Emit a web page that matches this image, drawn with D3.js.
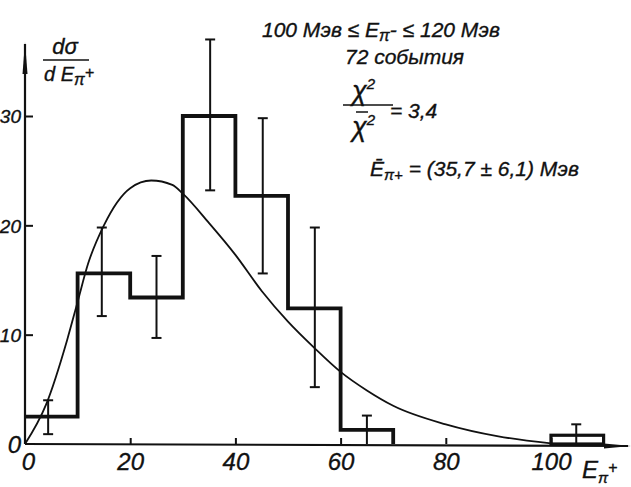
<!DOCTYPE html>
<html>
<head>
<meta charset="utf-8">
<script src="https://cdn.jsdelivr.net/npm/d3@7"></script>
<style>
  body { margin: 0; background: #fff; }
  svg text { font-family: "Liberation Sans", "DejaVu Sans", sans-serif; font-style: italic; fill: #111; stroke: #111; stroke-width: 0.35; }
</style>
</head>
<body>
<svg width="631" height="487"></svg>
<script>
// histogram bins (MeV) and heights
const binStarts = [0, 10, 20, 30, 40, 50, 60];
const binHeights = [2.5, 15.6, 13.4, 30.0, 22.7, 12.4, 1.3];
const binWidth = 10;
const farBin = { start: 100, height: 0.8 };

// error bars
const errX  = [4.4, 14.6, 25, 35.2, 45.2, 55.1, 65, 104.8];
const errHi = [4.0, 19.8, 17.2, 37.0, 29.8, 19.8, 2.6, 1.8];
const errLo = [0.9, 11.7, 9.7, 23.2, 15.6, 5.2, 0, 0];

// theoretical curve
const curveX = [0, 4, 8, 10, 12, 15, 20, 24, 28, 30, 35, 40, 45, 50, 55, 60, 65, 70, 80, 90, 100];
const curveY = [0, 3.6, 9.5, 13, 16.5, 20, 23.4, 24.1, 23.7, 22.9, 20.2, 17.3, 14, 11.2, 8.8, 6.6, 4.9, 3.5, 1.8, 0.7, 0.05];

const xTicks = [0, 20, 40, 60, 80, 100];
const yTicks = [0, 10, 20, 30];

const svg = d3.select("svg");

const x = d3.scaleLinear().domain([0, 100]).range([25, 551]);
const y = d3.scaleLinear().domain([0, 30]).range([444, 116]);

// axes (ticks only, lines drawn by hand for the arrows)
const yAxis = svg.append("g")
  .attr("transform", `translate(${x(0)},0)`)
  .call(d3.axisLeft(y).tickValues(yTicks).tickSizeInner(-8).tickSizeOuter(0).tickPadding(5));
yAxis.select(".domain").remove();
yAxis.selectAll("line").attr("stroke", "#111").attr("stroke-width", 2);
yAxis.selectAll("text")
  .attr("font-size", d => d === 0 ? 24 : 19).attr("font-family", null).attr("dy", "0.36em")
  .attr("x", -4);
yAxis.selectAll(".tick").filter(d => d === 0).select("line").remove();

const xAxis = svg.append("g")
  .attr("transform", `translate(0,${y(0)})`)
  .call(d3.axisBottom(x).tickValues(xTicks).tickSizeInner(-6).tickSizeOuter(0).tickPadding(9));
xAxis.select(".domain").remove();
xAxis.selectAll("line").attr("stroke", "#111").attr("stroke-width", 2);
xAxis.selectAll(".tick").filter(d => d === 0).select("line").remove();
xAxis.selectAll("text").attr("font-size", 24).attr("font-family", null)
  .attr("dx", d => d === 0 ? 3 : 0);

// axis lines with arrows
svg.append("line").attr("x1", x(0)).attr("x2", x(0)).attr("y1", y(0)).attr("y2", 44)
  .attr("stroke", "#111").attr("stroke-width", 2.2);
svg.append("path").attr("d", `M${x(0) - 2.5},74 L${x(0)},42 L${x(0) + 2.5},74 Z`).attr("fill", "#111");
svg.append("line").attr("x1", x(0)).attr("x2", 628).attr("y1", y(0)).attr("y2", y(0) + 2)
  .attr("stroke", "#111").attr("stroke-width", 2.2);
svg.append("path").attr("d", `M604,${y(0) - 0.5} L631,${y(0) + 2} L604,${y(0) + 4.5} Z`).attr("fill", "#111");

// theory curve
const line = d3.line().x(d => x(d[0])).y(d => y(d[1])).curve(d3.curveMonotoneX);
svg.append("path")
  .datum(d3.zip(curveX, curveY))
  .attr("d", line)
  .attr("fill", "none").attr("stroke", "#111").attr("stroke-width", 1.8);

// histogram as a step outline
const steps = [[0, binHeights[0]]];
binStarts.forEach((s, i) => {
  steps.push([s, binHeights[i]]);
  steps.push([s + binWidth, binHeights[i]]);
});
steps.push([binStarts[binStarts.length - 1] + binWidth, 0]);
svg.append("path")
  .datum(steps)
  .attr("d", d3.line().x(d => x(d[0])).y(d => y(d[1])))
  .attr("fill", "none").attr("stroke", "#111").attr("stroke-width", 3.8)
  .attr("stroke-linejoin", "miter");

svg.append("rect")
  .attr("x", x(farBin.start)).attr("y", y(farBin.height))
  .attr("width", x(farBin.start + binWidth) - x(farBin.start))
  .attr("height", y(0) - y(farBin.height))
  .attr("fill", "none").attr("stroke", "#111").attr("stroke-width", 3.2);

// error bars
const eb = svg.append("g").attr("stroke", "#111").attr("stroke-width", 2);
errX.forEach((ex, i) => {
  eb.append("line").attr("x1", x(ex)).attr("x2", x(ex)).attr("y1", y(errHi[i])).attr("y2", y(errLo[i]));
  eb.append("line").attr("x1", x(ex) - 5).attr("x2", x(ex) + 5).attr("y1", y(errHi[i])).attr("y2", y(errHi[i]));
  if (errLo[i] > 0)
    eb.append("line").attr("x1", x(ex) - 5).attr("x2", x(ex) + 5).attr("y1", y(errLo[i])).attr("y2", y(errLo[i]));
});

// y label dσ / dE
const yl = svg.append("g");
yl.append("text").attr("x", 65).attr("y", 54).attr("text-anchor", "middle").attr("font-size", 22).text("dσ");
yl.append("line").attr("x1", 43).attr("x2", 89).attr("y1", 60).attr("y2", 60).attr("stroke", "#111").attr("stroke-width", 1.5);
const yl2 = yl.append("text").attr("x", 44).attr("y", 81).attr("font-size", 20);
yl2.append("tspan").text("d E");
yl2.append("tspan").attr("dy", 4).attr("font-size", 16).text("π");
yl2.append("tspan").attr("dy", -7).attr("font-size", 16).text("+");

// x label
const xl = svg.append("text").attr("x", 582).attr("y", 478).attr("font-size", 24);
xl.append("tspan").text("E");
xl.append("tspan").attr("dy", 5).attr("font-size", 15).text("π");
xl.append("tspan").attr("dy", -10).attr("font-size", 16).text("+");

// annotations
const t1 = svg.append("text").attr("x", 262).attr("y", 37).attr("font-size", 21);
t1.append("tspan").text("100 Мэв ≤ E");
t1.append("tspan").attr("dy", 4).attr("font-size", 16).text("π");
t1.append("tspan").attr("dy", -4).text("- ≤ 120 Мэв");

svg.append("text").attr("x", 345).attr("y", 64).attr("font-size", 21).text("72 события");

const num = svg.append("text").attr("x", 352).attr("y", 100).attr("font-size", 27);
num.append("tspan").text("χ");
num.append("tspan").attr("dy", -11).attr("font-size", 15).text("2");
svg.append("line").attr("x1", 343).attr("x2", 393).attr("y1", 105).attr("y2", 105).attr("stroke", "#111").attr("stroke-width", 1.5);
const den = svg.append("text").attr("x", 352).attr("y", 136).attr("font-size", 27);
den.append("tspan").text("χ");
den.append("tspan").attr("dy", -11).attr("font-size", 15).text("2");
svg.append("line").attr("x1", 356).attr("x2", 368).attr("y1", 112).attr("y2", 112).attr("stroke", "#111").attr("stroke-width", 1.5);
svg.append("text").attr("x", 390).attr("y", 118).attr("font-size", 21).text("= 3,4");

const t4 = svg.append("text").attr("x", 370).attr("y", 176).attr("font-size", 21);
t4.append("tspan").text("Ē");
t4.append("tspan").attr("dy", 4).attr("font-size", 15).text("π+");
t4.append("tspan").attr("dy", -4).text(" = (35,7 ± 6,1) Мэв");
</script>
</body>
</html>
